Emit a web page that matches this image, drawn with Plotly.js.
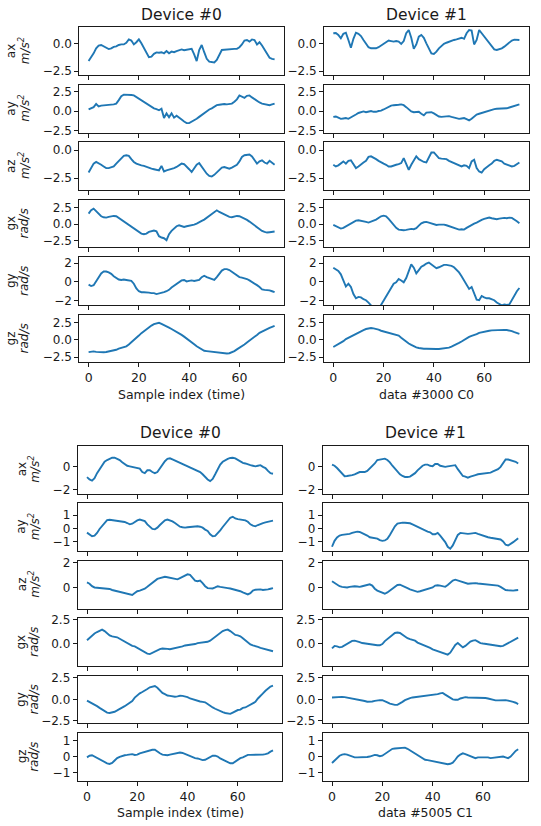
<!DOCTYPE html>
<html>
<head>
<meta charset="utf-8">
<script src="https://cdn.plot.ly/plotly-3.0.1.min.js"></script>
<style>
html,body{margin:0;padding:0;background:#ffffff;}
#chart{width:541px;height:826px;}
</style>
</head>
<body>
<div id="chart"></div>
<script>
// ---------------- DATA ----------------
const sampleIndex = [0,1,2,3,4,5,6,7,8,9,10,11,12,13,14,15,16,17,18,19,20,21,22,23,24,25,26,27,28,29,30,31,32,33,34,35,36,37,38,39,40,41,42,43,44,45,46,47,48,49,50,51,52,53,54,55,56,57,58,59,60,61,62,63,64,65,66,67,68,69,70,71,72,73,74];

const channels = ["ax","ay","az","gx","gy","gz"];
const units = ["m/s<sup>2</sup>","m/s<sup>2</sup>","m/s<sup>2</sup>","rad/s","rad/s","rad/s"];
const deviceTitles = ["Device #0","Device #1"];
const xTitlesTop = ["Sample index (time)","data #3000 C0"];
const xTitlesBottom = ["Sample index (time)","data #5005 C1"];
const xTickVals = [0,20,40,60];

// Sample #3000 (C0), device 0
const s3000_d0_ax = [-1.6,-1.3,-0.9,-0.45,-0.2,-0.15,-0.25,-0.4,-0.52,-0.45,-0.32,-0.28,-0.15,-0.1,-0.1,0.05,0.35,0.25,-0.1,0.1,0.35,0.0,-0.4,-0.9,-1.25,-1.2,-0.95,-0.82,-0.85,-0.8,-0.9,-0.7,-0.9,-0.75,-0.8,-0.7,-0.65,-0.55,-0.62,-0.58,-0.6,-0.5,-1.0,-1.6,-0.6,-0.15,-0.8,-1.4,-1.65,-1.7,-1.72,-1.5,-1.0,-0.6,-0.58,-0.55,-0.55,-0.52,-0.5,-0.5,-0.35,-0.1,0.25,0.3,0.15,0.35,0.3,-0.1,0.1,-0.2,-0.6,-1.0,-1.3,-1.4,-1.45];
const s3000_d0_ay = [0.2,0.3,0.5,0.9,0.6,0.7,0.75,0.75,0.8,0.82,0.85,0.95,1.4,1.9,2.1,2.1,2.1,2.05,2.0,1.8,1.55,1.35,1.1,0.95,0.75,0.5,0.35,0.25,0.1,0.3,-0.9,-0.3,-0.8,-0.3,-0.85,-0.6,-0.8,-1.1,-1.35,-1.55,-1.55,-1.4,-1.2,-1.0,-0.75,-0.5,-0.3,-0.1,0.2,0.35,0.6,0.75,0.8,0.85,0.9,0.85,0.9,0.95,1.2,1.5,2.0,1.85,1.7,1.95,2.0,1.75,1.5,1.3,1.1,0.95,0.85,0.8,0.75,0.85,0.95];
const s3000_d0_az = [-2.0,-1.6,-1.2,-1.05,-1.15,-1.3,-1.45,-1.6,-1.6,-1.55,-1.45,-1.2,-0.95,-0.7,-0.5,-0.45,-0.5,-0.8,-1.05,-1.2,-1.3,-1.35,-1.4,-1.5,-1.6,-1.65,-1.7,-1.75,-1.8,-1.4,-1.9,-1.8,-1.75,-1.7,-1.6,-1.5,-1.35,-1.2,-1.25,-1.45,-1.7,-1.95,-1.6,-1.3,-1.15,-1.5,-1.8,-2.1,-2.3,-2.35,-2.2,-2.0,-1.75,-1.55,-1.5,-1.6,-1.65,-1.55,-1.4,-1.3,-1.0,-0.6,-0.45,-0.4,-0.38,-0.55,-0.9,-1.2,-1.0,-0.9,-1.1,-1.2,-0.95,-1.1,-1.3];
const s3000_d0_gx = [1.6,2.1,2.35,2.0,1.6,1.2,1.05,1.0,1.1,1.2,1.25,1.2,0.95,0.65,0.35,0.15,-0.1,-0.35,-0.6,-0.9,-1.15,-1.4,-1.5,-1.4,-1.15,-1.0,-0.95,-1.05,-1.8,-2.0,-2.1,-2.4,-1.5,-1.0,-0.6,-0.3,-0.15,-0.25,-0.4,-0.3,-0.25,-0.15,-0.05,0.1,0.35,0.5,0.7,1.0,1.3,1.55,1.85,2.1,1.85,1.65,1.45,1.25,1.1,1.05,1.15,1.25,1.2,1.05,0.9,0.65,0.4,0.1,-0.2,-0.5,-0.8,-1.0,-1.15,-1.25,-1.2,-1.15,-1.1];
const s3000_d0_gy = [-0.3,-0.45,-0.35,0.1,0.6,0.9,1.1,1.1,1.0,0.85,0.6,0.4,0.25,0.2,0.25,0.2,0.15,0.1,-0.2,-0.7,-1.0,-1.1,-1.1,-1.1,-1.15,-1.2,-1.2,-1.3,-1.25,-1.2,-1.1,-1.0,-0.85,-0.6,-0.4,-0.2,0.0,0.15,0.2,0.05,0.1,0.15,0.1,0.15,0.2,0.5,0.65,0.5,0.4,0.25,0.2,0.5,0.9,1.2,1.35,1.35,1.25,1.05,0.85,0.65,0.5,0.45,0.4,0.3,0.15,0.0,-0.2,-0.35,-0.55,-0.8,-0.85,-0.85,-0.9,-1.0,-1.1];
const s3000_d0_gz = [-1.8,-1.72,-1.68,-1.75,-1.8,-1.8,-1.8,-1.78,-1.72,-1.65,-1.55,-1.45,-1.3,-1.2,-1.1,-0.95,-0.7,-0.4,-0.05,0.25,0.6,0.95,1.25,1.5,1.8,2.05,2.25,2.4,2.45,2.3,2.15,2.0,1.75,1.55,1.35,1.2,0.95,0.7,0.45,0.2,-0.1,-0.35,-0.65,-0.95,-1.2,-1.45,-1.6,-1.65,-1.7,-1.75,-1.75,-1.85,-1.95,-2.0,-2.0,-2.0,-1.95,-1.85,-1.65,-1.4,-1.2,-0.95,-0.7,-0.4,-0.15,0.1,0.4,0.7,1.0,1.2,1.4,1.55,1.7,1.85,2.0];

// Sample #3000 (C0), device 1
const s3000_d1_ax = [0.9,0.92,0.75,0.45,0.85,0.95,0.3,-0.4,0.4,0.95,0.85,0.65,0.3,0.0,-0.35,-0.45,-0.45,-0.45,-0.35,-0.2,-0.1,0.1,0.25,0.2,0.15,0.2,0.15,-0.05,0.2,0.9,1.2,0.5,-0.5,-0.1,0.6,0.75,0.5,0.0,-0.5,-0.9,-0.95,-0.75,-0.45,-0.2,-0.05,0.05,0.15,0.25,0.3,0.35,0.4,0.5,0.4,0.9,1.2,1.15,-0.1,0.3,1.2,0.9,0.6,0.3,0.0,-0.3,-0.55,-0.6,-0.55,-0.45,-0.3,-0.1,0.1,0.25,0.33,0.33,0.3];
const s3000_d1_ay = [-0.75,-0.7,-0.85,-1.0,-0.95,-0.9,-1.0,-0.85,-0.7,-0.45,-0.25,-0.15,-0.05,-0.15,-0.05,0.0,-0.1,-0.1,0.0,0.05,0.2,0.4,0.55,0.7,0.75,0.75,0.8,0.85,0.75,0.5,0.2,-0.05,-0.15,-0.1,-0.1,-0.35,-0.55,-0.2,-0.15,-0.15,-0.3,-0.55,-0.7,-0.75,-0.7,-0.7,-0.65,-0.75,-0.85,-0.9,-1.0,-0.95,-0.9,-1.05,-1.2,-1.0,-0.7,-0.45,-0.35,-0.25,-0.1,0.0,0.05,0.1,0.25,0.3,0.3,0.28,0.3,0.35,0.45,0.55,0.65,0.75,0.85];
const s3000_d1_az = [-1.3,-1.45,-1.35,-1.15,-1.0,-1.2,-0.95,-0.9,-1.3,-1.6,-1.45,-1.25,-1.1,-0.95,-0.6,-0.55,-0.65,-0.8,-0.95,-1.1,-1.2,-1.3,-1.45,-1.45,-1.35,-1.3,-1.25,-1.15,-0.7,-1.3,-1.75,-1.3,-0.9,-0.55,-0.8,-0.95,-1.05,-1.1,-0.6,-0.2,-0.2,-0.45,-0.7,-0.75,-0.75,-0.8,-0.95,-1.05,-1.2,-1.3,-1.4,-1.45,-1.35,-1.4,-1.6,-1.0,-0.85,-1.6,-1.9,-2.0,-1.7,-1.5,-1.35,-1.2,-0.95,-0.85,-0.9,-1.0,-1.2,-1.3,-1.4,-1.45,-1.4,-1.25,-1.1];
const s3000_d1_gx = [-0.1,-0.3,-0.5,-0.65,-0.55,-0.35,-0.15,0.05,0.3,0.55,0.6,0.55,0.45,0.35,0.25,0.35,0.55,0.7,0.95,1.2,1.3,1.2,0.8,0.3,-0.2,-0.55,-0.8,-0.9,-0.9,-0.85,-0.75,-0.7,-0.75,-0.6,-0.2,0.15,0.3,0.35,0.25,0.1,0.0,-0.1,-0.05,0.0,-0.05,-0.15,-0.3,-0.45,-0.6,-0.75,-0.8,-0.75,-0.8,-0.55,-0.3,-0.15,0.1,0.25,0.5,0.65,0.8,0.9,1.0,0.9,0.8,0.75,0.85,0.95,0.95,0.9,1.0,0.95,0.75,0.45,0.15];
const s3000_d1_gy = [1.5,1.3,1.15,0.8,0.2,-0.5,-0.2,-0.55,-1.3,-1.75,-1.6,-1.65,-1.85,-1.95,-2.2,-2.5,-2.9,-3.1,-2.9,-2.45,-2.0,-1.5,-1.0,-0.5,-0.2,-0.05,0.3,0.15,-0.05,0.4,1.2,1.85,1.5,0.9,1.25,1.6,1.75,1.95,2.05,1.85,1.6,1.45,1.55,1.7,1.8,1.8,1.75,1.7,1.55,1.3,1.0,0.6,0.1,-0.4,-0.75,-0.55,-1.2,-1.9,-1.95,-1.5,-1.65,-1.75,-1.75,-1.85,-1.95,-2.2,-2.35,-2.5,-2.4,-2.45,-2.4,-1.9,-1.45,-1.0,-0.65];
const s3000_d1_gz = [-1.05,-0.85,-0.65,-0.45,-0.2,0.1,0.3,0.5,0.7,0.85,1.05,1.25,1.4,1.55,1.65,1.7,1.65,1.6,1.45,1.3,1.2,1.05,0.95,0.9,0.8,0.7,0.6,0.3,0.0,-0.3,-0.55,-0.75,-0.95,-1.1,-1.2,-1.28,-1.3,-1.3,-1.33,-1.33,-1.33,-1.33,-1.33,-1.3,-1.3,-1.25,-1.15,-1.0,-0.85,-0.65,-0.45,-0.25,0.0,0.2,0.4,0.55,0.65,0.8,1.0,1.1,1.2,1.25,1.3,1.35,1.38,1.4,1.42,1.45,1.43,1.4,1.35,1.25,1.1,0.95,0.85];

// Sample #5005 (C1), device 0
const s5005_d0_ax = [-0.9,-1.1,-1.2,-1.0,-0.55,-0.2,0.2,0.45,0.6,0.72,0.8,0.8,0.72,0.6,0.4,0.25,0.1,0.05,0.0,-0.05,-0.1,-0.15,-0.45,-0.55,-0.3,-0.3,-0.45,-0.55,-0.45,-0.1,0.2,0.5,0.7,0.75,0.65,0.55,0.45,0.35,0.2,0.1,0.0,-0.1,-0.2,-0.25,-0.35,-0.45,-0.65,-0.9,-1.1,-1.25,-1.05,-0.65,-0.25,0.2,0.45,0.6,0.7,0.78,0.8,0.75,0.6,0.45,0.35,0.3,0.2,0.15,0.1,0.05,0.1,0.15,0.0,-0.1,-0.35,-0.55,-0.6];
const s5005_d0_ay = [-0.33,-0.5,-0.6,-0.55,-0.35,-0.05,0.2,0.45,0.62,0.65,0.62,0.6,0.6,0.56,0.5,0.48,0.4,0.3,0.35,0.48,0.6,0.66,0.62,0.55,0.3,0.1,-0.05,-0.08,0.05,0.25,0.45,0.6,0.66,0.6,0.52,0.4,0.25,0.12,0.08,0.05,0.08,0.1,0.1,0.12,0.15,0.12,0.05,-0.1,-0.2,-0.45,-0.6,-0.58,-0.4,-0.15,0.1,0.35,0.6,0.8,0.88,0.75,0.7,0.68,0.66,0.6,0.5,0.3,0.2,0.15,0.25,0.35,0.4,0.45,0.5,0.55,0.58];
const s5005_d0_az = [0.4,0.3,0.1,0.0,-0.02,-0.05,-0.05,-0.08,-0.08,-0.12,-0.2,-0.25,-0.3,-0.35,-0.4,-0.45,-0.5,-0.55,-0.6,-0.45,-0.3,-0.25,-0.2,-0.1,0.05,0.2,0.4,0.55,0.68,0.75,0.8,0.85,0.82,0.78,0.72,0.65,0.65,0.75,0.85,0.95,1.05,1.0,0.8,0.55,0.5,0.55,0.35,0.1,-0.05,-0.08,-0.08,0.0,0.1,0.05,0.0,-0.02,-0.05,-0.08,-0.12,-0.2,-0.25,-0.3,-0.4,-0.48,-0.55,-0.45,-0.25,-0.18,-0.15,-0.15,-0.2,-0.2,-0.15,-0.1,-0.05];
const s5005_d0_gx = [0.35,0.6,0.85,1.05,1.2,1.35,1.45,1.3,1.05,0.85,0.75,0.7,0.65,0.5,0.35,0.15,0.0,-0.15,-0.25,-0.3,-0.45,-0.6,-0.75,-0.9,-1.05,-1.1,-0.95,-0.8,-0.65,-0.58,-0.52,-0.52,-0.55,-0.6,-0.55,-0.5,-0.42,-0.35,-0.3,-0.2,-0.18,-0.15,-0.08,-0.05,0.05,0.08,0.07,0.1,0.18,0.3,0.5,0.7,0.95,1.15,1.3,1.4,1.45,1.3,1.05,0.9,0.85,0.75,0.55,0.3,0.05,-0.1,-0.2,-0.25,-0.35,-0.45,-0.52,-0.55,-0.62,-0.72,-0.8];
const s5005_d0_gy = [-0.15,-0.3,-0.45,-0.6,-0.8,-1.0,-1.2,-1.4,-1.55,-1.6,-1.55,-1.45,-1.3,-1.15,-0.95,-0.8,-0.6,-0.4,-0.2,0.2,0.5,0.7,0.85,1.0,1.2,1.4,1.5,1.55,1.35,1.05,0.75,0.6,0.45,0.4,0.35,0.3,0.35,0.42,0.4,0.35,0.25,0.1,0.0,-0.1,-0.2,-0.25,-0.3,-0.35,-0.55,-0.8,-0.95,-1.1,-1.25,-1.4,-1.5,-1.6,-1.68,-1.7,-1.55,-1.4,-1.25,-1.2,-1.0,-0.95,-0.8,-0.6,-0.5,-0.3,0.1,0.35,0.7,1.0,1.25,1.5,1.6];
const s5005_d0_gz = [-0.05,0.05,0.08,0.0,-0.1,-0.2,-0.28,-0.35,-0.42,-0.46,-0.4,-0.25,-0.1,-0.02,0.05,0.08,0.1,0.12,0.15,0.1,0.12,0.2,0.25,0.3,0.32,0.38,0.42,0.42,0.3,0.2,0.12,0.08,0.08,0.12,0.15,0.2,0.22,0.25,0.22,0.15,0.08,0.0,-0.05,-0.1,-0.12,-0.18,-0.22,-0.2,-0.1,0.0,0.05,0.05,0.0,-0.12,-0.2,-0.3,-0.38,-0.42,-0.42,-0.3,-0.2,-0.1,-0.05,0.05,0.1,0.1,0.1,0.1,0.08,0.1,0.12,0.15,0.2,0.3,0.38];

// Sample #5005 (C1), device 1
const s5005_d1_ax = [0.2,0.1,-0.1,-0.35,-0.6,-0.82,-0.8,-0.78,-0.72,-0.65,-0.55,-0.45,-0.45,-0.45,-0.35,-0.15,0.05,0.3,0.6,0.65,0.65,0.72,0.6,0.4,0.1,-0.15,-0.4,-0.65,-0.8,-0.88,-0.88,-0.85,-0.7,-0.55,-0.3,-0.1,0.1,0.2,0.2,0.1,0.05,0.25,0.25,0.1,0.05,0.0,0.05,0.1,0.1,0.15,-0.2,-0.5,-0.8,-0.85,-0.95,-0.85,-0.75,-0.72,-0.65,-0.62,-0.6,-0.6,-0.55,-0.5,-0.4,-0.3,-0.2,0.0,0.3,0.65,0.65,0.6,0.55,0.45,0.3];
const s5005_d1_ay = [-1.4,-0.95,-0.7,-0.55,-0.5,-0.48,-0.45,-0.42,-0.35,-0.3,-0.25,-0.28,-0.35,-0.45,-0.55,-0.68,-0.72,-0.72,-0.78,-0.9,-0.95,-0.92,-0.8,-0.5,-0.15,0.15,0.35,0.42,0.43,0.42,0.42,0.38,0.3,0.2,0.1,0.0,-0.05,-0.15,-0.25,-0.3,-0.45,-0.45,-0.35,-0.55,-0.8,-1.05,-1.4,-1.55,-1.3,-0.85,-0.5,-0.35,-0.38,-0.4,-0.42,-0.4,-0.38,-0.35,-0.42,-0.5,-0.55,-0.6,-0.68,-0.72,-0.75,-0.78,-0.8,-0.85,-1.0,-1.25,-1.3,-1.2,-1.05,-0.9,-0.75];
const s5005_d1_az = [0.5,0.35,0.2,0.1,0.05,0.03,0.0,0.05,0.1,0.1,0.08,0.05,0.1,0.15,0.2,0.25,0.15,-0.1,-0.25,-0.35,-0.45,-0.5,-0.4,-0.25,-0.05,0.1,0.2,0.22,0.15,0.05,-0.05,-0.15,-0.2,-0.3,-0.35,-0.3,-0.25,-0.15,-0.1,-0.08,0.0,0.15,0.18,0.15,0.1,0.05,0.2,0.4,0.55,0.62,0.55,0.5,0.42,0.35,0.3,0.32,0.35,0.35,0.32,0.3,0.25,0.22,0.2,0.18,0.18,0.2,0.15,0.05,-0.1,-0.2,-0.22,-0.25,-0.25,-0.22,-0.2];
const s5005_d1_gx = [-0.5,-0.25,-0.3,-0.4,-0.35,-0.2,-0.05,0.15,0.28,0.3,0.25,0.15,0.05,0.0,-0.05,-0.08,-0.12,-0.15,-0.18,-0.18,-0.05,0.25,0.5,0.7,0.9,1.1,1.15,1.1,0.9,0.75,0.55,0.45,0.35,0.3,0.1,0.0,-0.15,-0.2,-0.35,-0.45,-0.6,-0.7,-0.75,-0.85,-1.0,-1.1,-1.15,-0.95,-0.55,-0.15,0.05,-0.2,-0.4,-0.25,0.0,0.2,0.3,0.35,0.2,0.05,0.0,-0.05,-0.05,-0.1,-0.15,-0.18,-0.25,-0.28,-0.25,-0.1,0.1,0.25,0.35,0.5,0.62];
const s5005_d1_gy = [0.22,0.25,0.28,0.3,0.28,0.25,0.2,0.15,0.12,0.05,0.0,-0.05,-0.1,-0.2,-0.28,-0.3,-0.25,-0.18,-0.12,-0.1,-0.1,-0.2,-0.35,-0.5,-0.6,-0.65,-0.65,-0.5,-0.3,-0.1,0.05,0.15,0.22,0.25,0.28,0.3,0.35,0.38,0.4,0.45,0.5,0.55,0.6,0.7,0.75,0.55,0.35,0.15,0.0,-0.05,-0.05,0.1,0.22,0.25,0.22,0.22,0.22,0.22,0.22,0.22,0.2,0.15,0.1,0.0,-0.08,-0.12,-0.12,-0.1,-0.08,-0.1,-0.15,-0.2,-0.3,-0.4,-0.55];
const s5005_d1_gz = [-0.4,-0.25,-0.1,0.05,0.12,0.15,0.12,0.05,-0.02,-0.05,-0.05,-0.05,-0.05,-0.05,-0.03,0.0,0.05,0.1,0.08,0.02,0.05,0.15,0.25,0.4,0.48,0.5,0.52,0.55,0.55,0.55,0.48,0.38,0.28,0.18,0.08,-0.05,-0.15,-0.2,-0.22,-0.25,-0.28,-0.3,-0.35,-0.38,-0.42,-0.45,-0.48,-0.45,-0.38,-0.2,0.0,0.12,0.2,0.15,0.08,0.0,-0.08,-0.1,-0.05,-0.05,-0.05,-0.05,-0.05,-0.1,-0.08,-0.05,-0.02,0.0,0.0,-0.05,-0.1,0.0,0.2,0.35,0.45];

// Axis ticks and ranges (per row; shared by the two devices of a row)
const topYTicks = [[-2.5,0],[-2.5,0,2.5],[-2.5,0],[-2.5,0,2.5],[-2,0,2],[-2.5,0,2.5]];
const topYFormat = [".1f",".1f",".1f",".1f","d",".1f"];
const topYRange = [[-2.86,1.44],[-2.76,3.37],[-3.56,0.72],[-3.49,3.7],[-2.45,2.63],[-3.27,3.64]];
const botYTicks = [[-2,0],[-1,0,1],[0,2],[0,2.5],[-2.5,0,2.5],[-1,0,1]];
const botYFormat = ["d","d","d",".1f",".1f","d"];
const botYRange = [[-2.35,1.83],[-1.73,1.89],[-1.68,2.13],[-2.33,2.64],[-2.8,2.77],[-1.5,1.46]];

const groups = [
  {
    series: [
      [s3000_d0_ax,s3000_d0_ay,s3000_d0_az,s3000_d0_gx,s3000_d0_gy,s3000_d0_gz],
      [s3000_d1_ax,s3000_d1_ay,s3000_d1_az,s3000_d1_gx,s3000_d1_gy,s3000_d1_gz]
    ],
    xTitles: xTitlesTop, yTicks: topYTicks, yFormat: topYFormat, yRange: topYRange,
    colX: [[79.3,283.9],[324.0,528.7]], top: 27.3, pitch: 57.45, height: 47.8,
    titleY: 15, tickTitleY: 394.3, labelX: [11, 24]
  },
  {
    series: [
      [s5005_d0_ax,s5005_d0_ay,s5005_d0_az,s5005_d0_gx,s5005_d0_gy,s5005_d0_gz],
      [s5005_d1_ax,s5005_d1_ay,s5005_d1_az,s5005_d1_gx,s5005_d1_gy,s5005_d1_gz]
    ],
    xTitles: xTitlesBottom, yTicks: botYTicks, yFormat: botYFormat, yRange: botYRange,
    colX: [[77.7,282.3],[322.7,527.5]], top: 446.0, pitch: 57.4, height: 47.7,
    titleY: 433.3, tickTitleY: 812.7, labelX: [21.5, 34]
  }
];

// ---------------- BUILD ----------------
const W = 541, H = 826;
const FONT = "DejaVu Sans, Arial, sans-serif";
const INK = "#1a1a1a";
const TICK = 12;
const LABEL = 12.5;
const traces = [];
const layout = {
  width: W, height: H,
  margin: {l:0, r:0, t:0, b:0},
  paper_bgcolor: "#ffffff", plot_bgcolor: "#ffffff",
  showlegend: false,
  font: {family: FONT, size: TICK, color: INK},
  annotations: []
};
const fx = p => p / W;
const fy = p => 1 - p / H;

groups.forEach((g, gi) => {
  for (let r = 0; r < 6; r++) {
    const yTop = g.top + r * g.pitch;
    const yBot = yTop + g.height;
    for (let c = 0; c < 2; c++) {
      const n = gi * 12 + r * 2 + c + 1;
      const xa = "x" + (n === 1 ? "" : n);
      const ya = "y" + (n === 1 ? "" : n);
      traces.push({
        x: sampleIndex, y: g.series[c][r], xaxis: xa, yaxis: ya,
        type: "scatter", mode: "lines",
        line: {color: "#1f77b4", width: 1.9},
        hoverinfo: "skip", cliponaxis: true
      });
      const xKey = "xaxis" + (n === 1 ? "" : n);
      const yKey = "yaxis" + (n === 1 ? "" : n);
      layout[xKey] = {
        domain: [fx(g.colX[c][0]), fx(g.colX[c][1])],
        anchor: ya, range: [-3.7, 77.7],
        tickmode: "array", tickvals: xTickVals,
        showticklabels: r === 5,
        ticks: "outside", ticklen: 4, tickwidth: 1, tickcolor: INK,
        showline: true, linecolor: INK, linewidth: 1, mirror: true,
        showgrid: false, zeroline: false, fixedrange: true,
        tickfont: {family: FONT, size: LABEL, color: INK}
      };
      layout[yKey] = {
        domain: [fy(yBot), fy(yTop)],
        anchor: xa, range: g.yRange[r],
        tickmode: "array", tickvals: g.yTicks[r], tickformat: g.yFormat[r],
        ticks: "outside", ticklen: 4, tickwidth: 1, tickcolor: INK,
        showline: true, linecolor: INK, linewidth: 1, mirror: true,
        showgrid: false, zeroline: false, fixedrange: true,
        tickfont: {family: FONT, size: TICK, color: INK}
      };
      if (c === 0) {
        const yc = (yTop + yBot) / 2;
        layout.annotations.push({
          xref: "paper", yref: "paper", x: fx(g.labelX[0]), y: fy(yc),
          xanchor: "center", yanchor: "middle", textangle: -90, showarrow: false,
          borderpad: 0, text: channels[r], font: {family: FONT, size: TICK, color: INK}
        });
        layout.annotations.push({
          xref: "paper", yref: "paper", x: fx(g.labelX[1]), y: fy(yc),
          xanchor: "center", yanchor: "middle", textangle: -90, showarrow: false,
          borderpad: 0, text: units[r], font: {family: FONT, size: TICK, color: INK, style: "italic"}
        });
      }
    }
  }
  for (let c = 0; c < 2; c++) {
    const xc = (g.colX[c][0] + g.colX[c][1]) / 2;
    layout.annotations.push({
      xref: "paper", yref: "paper", x: fx(xc), y: fy(g.titleY),
      xanchor: "center", yanchor: "middle", showarrow: false, borderpad: 0,
      text: deviceTitles[c], font: {family: FONT, size: 15.5, color: INK}
    });
    layout.annotations.push({
      xref: "paper", yref: "paper", x: fx(xc), y: fy(g.tickTitleY),
      xanchor: "center", yanchor: "middle", showarrow: false, borderpad: 0,
      text: g.xTitles[c], font: {family: FONT, size: LABEL, color: INK}
    });
  }
});

Plotly.newPlot("chart", traces, layout, {staticPlot: true, displayModeBar: false});
</script>
</body>
</html>
